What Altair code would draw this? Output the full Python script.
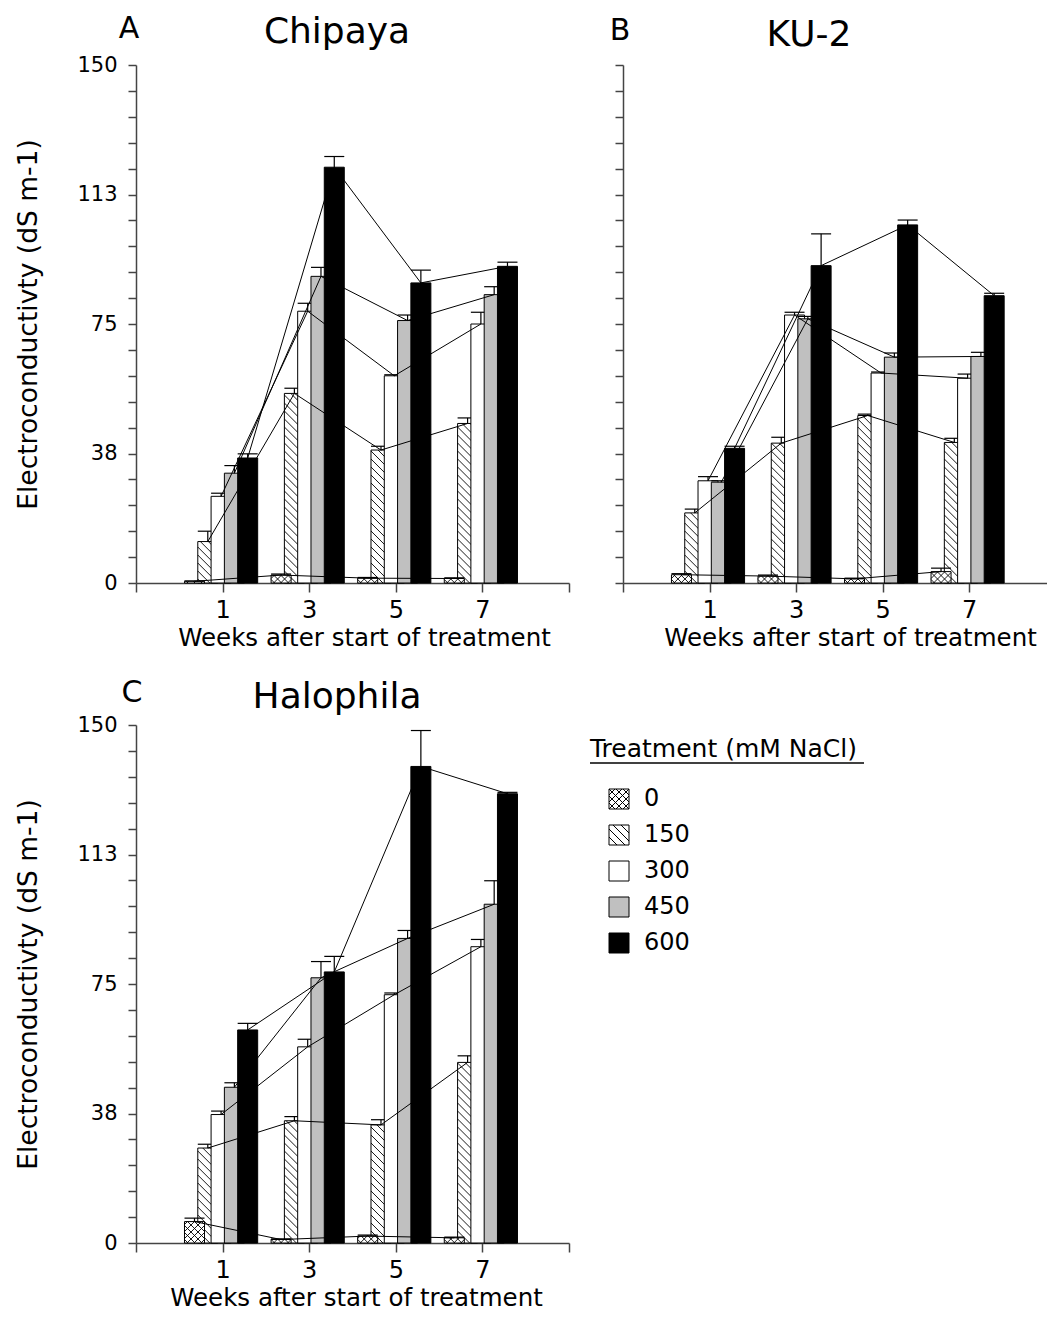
import altair as alt
import pandas as pd

FONT = "DejaVu Sans"

weeks = [1, 3, 5, 7]
treatments = ["0", "150", "300", "450", "600"]

# ---- Chipaya (A) ----
chipaya_0 = [0.5, 2.3, 1.4, 1.3]
chipaya_0_err = [0.1, 0.3, 0.2, 0.2]
chipaya_150 = [12.0, 54.9, 38.5, 46.2]
chipaya_150_err = [3.0, 1.5, 1.1, 1.6]
chipaya_300 = [25.1, 78.7, 60.0, 75.0]
chipaya_300_err = [0.9, 2.3, 0.3, 3.4]
chipaya_450 = [31.8, 88.8, 76.0, 83.5]
chipaya_450_err = [2.2, 2.6, 1.6, 2.3]
chipaya_600 = [36.2, 120.4, 86.9, 91.7]
chipaya_600_err = [1.2, 3.1, 3.7, 1.2]

# ---- KU-2 (B) ----
ku2_0 = [2.4, 2.0, 1.2, 3.3]
ku2_0_err = [0.3, 0.3, 0.2, 1.0]
ku2_150 = [20.3, 40.5, 48.5, 40.7]
ku2_150_err = [1.1, 1.7, 0.4, 1.2]
ku2_300 = [29.6, 77.6, 60.8, 59.3]
ku2_300_err = [1.2, 0.8, 0.3, 1.2]
ku2_450 = [29.2, 76.5, 65.4, 65.6]
ku2_450_err = [0.4, 0.7, 1.2, 1.2]
ku2_600 = [39.0, 91.9, 103.7, 83.2]
ku2_600_err = [0.6, 9.2, 1.4, 0.7]

# ---- Halophila (C) ----
halo_0 = [6.2, 1.0, 2.0, 1.5]
halo_0_err = [1.0, 0.2, 0.3, 0.2]
halo_150 = [27.5, 35.4, 34.2, 52.3]
halo_150_err = [1.1, 1.2, 1.5, 1.9]
halo_300 = [37.2, 56.8, 71.9, 85.8]
halo_300_err = [1.0, 2.2, 0.5, 2.1]
halo_450 = [45.1, 76.8, 88.2, 98.1]
halo_450_err = [1.3, 4.7, 2.3, 6.8]
halo_600 = [61.7, 78.5, 138.0, 130.1]
halo_600_err = [1.9, 4.5, 10.4, 0.4]

y_tick_values = [i * 7.5 for i in range(21)]

panels = {
    "A": {"name": "Chipaya",
          "vals": [chipaya_0, chipaya_150, chipaya_300, chipaya_450, chipaya_600],
          "errs": [chipaya_0_err, chipaya_150_err, chipaya_300_err, chipaya_450_err, chipaya_600_err]},
    "B": {"name": "KU-2",
          "vals": [ku2_0, ku2_150, ku2_300, ku2_450, ku2_600],
          "errs": [ku2_0_err, ku2_150_err, ku2_300_err, ku2_450_err, ku2_600_err]},
    "C": {"name": "Halophila",
          "vals": [halo_0, halo_150, halo_300, halo_450, halo_600],
          "errs": [halo_0_err, halo_150_err, halo_300_err, halo_450_err, halo_600_err]},
}

# ---- style / geometry ----
HEIGHT = 518
STEP = 0.307      # weeks between neighbouring bars
BARW = 0.462      # bar width in weeks
SHIFT = -0.035
FILL = {"0": "white", "150": "white", "300": "white", "450": "#c0c0c0", "600": "black"}
DRAW_ORDER = ["150", "300", "450", "600", "0"]
HATCH = {"150": [("back", 8.0)], "0": [("back", 7.0), ("fwd", 7.0)]}
X_TITLE = "Weeks after start of treatment"
Y_TITLE = "Electroconductivty  (dS m-1)"


def hatch_segments(xl, xr, top, pxx, pxy, spacing, direction):
    w = (xr - xl) * pxx
    h = top * pxy
    segs = []
    if direction == "back":
        c = spacing / 2.0
        while c < w + h:
            xs, xe = max(0.0, c - h), min(w, c)
            if xe > xs:
                segs.append((xl + xs / pxx, (c - xs) / pxy, xl + xe / pxx, (c - xe) / pxy))
            c += spacing
    else:
        c = -w + spacing / 2.0
        while c < h:
            xs, xe = max(0.0, -c), min(w, h - c)
            if xe > xs:
                segs.append((xl + xs / pxx, (xs + c) / pxy, xl + xe / pxx, (xe + c) / pxy))
            c += spacing
    return segs


def build_panel(key, xmax, width, show_y, title_x):
    info = panels[key]
    pxx = width / (xmax + 1.0)
    pxy = HEIGHT / 150.0
    rows = []
    for i, t in enumerate(treatments):
        for j, wk in enumerate(weeks):
            v = info["vals"][i][j]
            e = info["errs"][i][j]
            xc = wk + (i - 2) * STEP + SHIFT
            rows.append(dict(treat=t, week=wk, value=v, errtop=v + e, zero=0.0,
                             xc=xc, xl=xc - BARW / 2, xr=xc + BARW / 2))
    df = pd.DataFrame(rows)

    xs = alt.Scale(domain=[-1, xmax], nice=False, zero=False)
    ys = alt.Scale(domain=[0, 150], nice=False)
    xvals = [v for v in [-1, 1, 3, 5, 7, 9] if v <= xmax]
    xaxis = alt.Axis(values=xvals, title=X_TITLE,
                     labelExpr="(datum.value >= 1 && datum.value <= 7) ? datum.label : ''",
                     grid=False, tickSize=9, labelFontSize=24, titleFontSize=24.5,
                     labelPadding=6, titlePadding=4, labelOverlap=False, labelFlush=False,
                     titleX=title_x, titleAlign="center")
    if show_y:
        yaxis = alt.Axis(values=y_tick_values, title=Y_TITLE,
                         labelExpr="datum.value % 37.5 == 0 ? format(datum.value, '.0f') : ''",
                         grid=False, tickSize=8, labelFontSize=21, titleFontSize=26.5,
                         labelPadding=11, titlePadding=34, labelOverlap=False)
    else:
        yaxis = alt.Axis(values=y_tick_values, title=None, labels=False, grid=False, tickSize=8)

    def X(f):
        return alt.X(f, scale=xs, axis=xaxis, title=X_TITLE)

    def Y(f):
        return alt.Y(f, scale=ys, axis=yaxis, title=Y_TITLE if show_y else None)

    layers = []
    for t in DRAW_ORDER:
        sub = df[df.treat == t]
        base = alt.Chart(sub)
        layers.append(base.mark_rect(fill=FILL[t], stroke="black", strokeWidth=1).encode(
            x=X("xl:Q"), x2="xr:Q", y=Y("value:Q"), y2="zero:Q"))
        if t in HATCH:
            segs = []
            for _, r in sub.iterrows():
                for direction, sp in HATCH[t]:
                    segs += hatch_segments(r.xl, r.xr, r.value, pxx, pxy, sp, direction)
            hdf = pd.DataFrame(segs, columns=["hx1", "hy1", "hx2", "hy2"])
            layers.append(alt.Chart(hdf).mark_rule(color="black", strokeWidth=0.9).encode(
                x=X("hx1:Q"), x2="hx2:Q", y=Y("hy1:Q"), y2="hy2:Q"))
        layers.append(base.mark_rule(color="black", strokeWidth=1.2).encode(
            x=X("xc:Q"), y=Y("value:Q"), y2="errtop:Q"))
        layers.append(base.mark_rule(color="black", strokeWidth=1.2).encode(
            x=X("xl:Q"), x2="xr:Q", y=Y("errtop:Q")))

    layers.append(alt.Chart(df).mark_line(color="black", strokeWidth=1).encode(
        x=X("xc:Q"), y=Y("value:Q"), detail="treat:N", order="week:Q"))
    return layers


def title_layers(letter, name, lx, ly, nx, ny):
    t1 = alt.Chart(pd.DataFrame({"t": [letter]})).mark_text(
        font=FONT, fontSize=30, align="center", baseline="alphabetic", color="black").encode(
        text="t:N", x=alt.value(lx), y=alt.value(ly))
    t2 = alt.Chart(pd.DataFrame({"t": [name]})).mark_text(
        font=FONT, fontSize=36, align="center", baseline="alphabetic", color="black").encode(
        text="t:N", x=alt.value(nx), y=alt.value(ny))
    return [t1, t2]


panelA = alt.layer(*build_panel("A", 9, 433, True, 228),
                   *title_layers("A", panels["A"]["name"], -7, -27, 201, -22)).properties(width=433, height=HEIGHT)
panelB = alt.layer(*build_panel("B", 8.8, 424, False, 227),
                   *title_layers("B", panels["B"]["name"], -3, -25, 186, -19)).properties(width=424, height=HEIGHT)
panelC = alt.layer(*build_panel("C", 9, 433, True, 220),
                   *title_layers("C", panels["C"]["name"], -4, -23, 201, -17)).properties(width=433, height=HEIGHT)

# ---- custom legend (its view sits in the second column, at B's x position) ----
def cross_path():
    parts = ["M-1,-1H1V1H-1Z"]
    for c in [-1.4, -0.7, 0.0, 0.7, 1.4]:
        x0, x1 = max(-1, c - 1), min(1, c + 1)
        parts.append(f"M{x0:.2f},{x0 - c:.2f}L{x1:.2f},{x1 - c:.2f}")
        parts.append(f"M{x0:.2f},{c - x0:.2f}L{x1:.2f},{c - x1:.2f}")
    return " ".join(parts)


def back_path():
    parts = ["M-1,-1H1V1H-1Z"]
    for c in [-1.2, -0.4, 0.4, 1.2]:
        x0, x1 = max(-1, c - 1), min(1, c + 1)
        parts.append(f"M{x0:.2f},{x0 - c:.2f}L{x1:.2f},{x1 - c:.2f}")
    return " ".join(parts)


legend_title = "Treatment (mM NaCl)"
leg_df = pd.DataFrame({"leg": treatments})
leg_y = alt.Y("leg:N", sort=treatments,
              scale=alt.Scale(type="point", domain=treatments, range=[74, 218], padding=0), axis=None)
leg_sym = alt.Chart(leg_df).mark_point(filled=True, stroke="black", strokeWidth=1, size=400, opacity=1).encode(
    x=alt.value(-4), y=leg_y,
    shape=alt.Shape("leg:N", scale=alt.Scale(domain=treatments,
                                             range=[cross_path(), back_path(), "square", "square", "square"]),
                    legend=None),
    fill=alt.Fill("leg:N", scale=alt.Scale(domain=treatments,
                                           range=[FILL[t] for t in treatments]), legend=None))
leg_txt = alt.Chart(leg_df).mark_text(font=FONT, fontSize=24, align="left", baseline="middle",
                                      color="black").encode(x=alt.value(21), y=leg_y, text="leg:N")
leg_title = alt.Chart(pd.DataFrame({"t": [legend_title]})).mark_text(
    font=FONT, fontSize=25, align="left", baseline="alphabetic", color="black").encode(
    text="t:N", x=alt.value(-33), y=alt.value(32))
leg_line = alt.Chart(pd.DataFrame({"t": [legend_title]})).mark_rule(color="black", strokeWidth=1.3).encode(
    x=alt.value(-33), x2=alt.value(241), y=alt.value(38))
legend = alt.layer(leg_title, leg_line, leg_sym, leg_txt).properties(width=300, height=250)

chart = alt.concat(panelA, panelB, panelC, legend, columns=2, bounds="flush",
                   spacing={"row": 142, "column": 54}).resolve_scale(
    x="independent", y="independent").properties(
    padding={"left": 7, "top": 6, "right": 0, "bottom": 0}, background="white"
).configure_view(stroke=None).configure_axis(
    labelFont=FONT, titleFont=FONT, labelColor="black", titleColor="black",
    titleFontWeight="normal", domainColor="#444", tickColor="#444", domainWidth=1.5, tickWidth=1.5
)

chart.save("out.html", embed_options={"renderer": "svg", "actions": False})
